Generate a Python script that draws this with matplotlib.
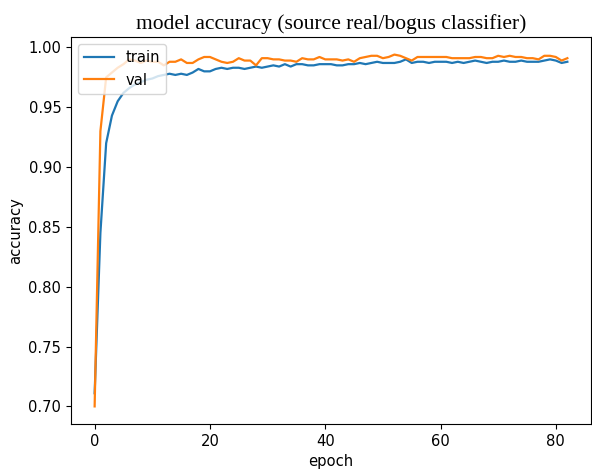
import matplotlib
matplotlib.use("Agg")
import matplotlib.pyplot as plt

epochs = list(range(83))
train = [0.711, 0.845, 0.920, 0.943, 0.955, 0.962, 0.966, 0.969, 0.971, 0.973,
         0.974, 0.976, 0.977, 0.978, 0.977, 0.978, 0.977, 0.979, 0.982, 0.980,
         0.980, 0.982, 0.983, 0.982, 0.983, 0.983, 0.982, 0.983, 0.984, 0.983,
         0.984, 0.985, 0.984, 0.986, 0.984, 0.986, 0.986, 0.985, 0.985, 0.986,
         0.986, 0.986, 0.985, 0.985, 0.986, 0.986, 0.987, 0.986, 0.987, 0.988,
         0.987, 0.987, 0.987, 0.988, 0.990, 0.987, 0.988, 0.988, 0.987, 0.988,
         0.988, 0.988, 0.987, 0.988, 0.987, 0.988, 0.989, 0.988, 0.987, 0.988,
         0.988, 0.989, 0.988, 0.988, 0.989, 0.988, 0.988, 0.988, 0.989, 0.990,
         0.989, 0.987, 0.988]
val = [0.700, 0.930, 0.975, 0.979, 0.983, 0.986, 0.990, 0.989, 0.987, 0.989,
       0.988, 0.988, 0.985, 0.988, 0.988, 0.990, 0.987, 0.987, 0.990, 0.992,
       0.992, 0.990, 0.988, 0.987, 0.988, 0.991, 0.989, 0.989, 0.985, 0.991,
       0.991, 0.990, 0.990, 0.989, 0.989, 0.988, 0.991, 0.990, 0.990, 0.992,
       0.990, 0.990, 0.990, 0.989, 0.990, 0.988, 0.991, 0.992, 0.993, 0.993,
       0.991, 0.992, 0.994, 0.993, 0.991, 0.989, 0.992, 0.992, 0.992, 0.992,
       0.992, 0.992, 0.991, 0.991, 0.991, 0.991, 0.992, 0.992, 0.991, 0.991,
       0.993, 0.992, 0.993, 0.992, 0.992, 0.991, 0.991, 0.990, 0.993, 0.993,
       0.992, 0.989, 0.991]

plt.rcParams["font.size"] = 10.6

fig = plt.figure(figsize=(5.92, 4.76), dpi=100)
ax = fig.add_axes([71/592, 1-424/476, (591-71)/592, (424-37)/476])
ax.plot(epochs, train, label="train", color="#1f77b4", linewidth=1.6)
ax.plot(epochs, val, label="val", color="#ff7f0e", linewidth=1.6)
ax.set_title("model accuracy (source real/bogus classifier)",
             fontfamily="Liberation Serif", fontsize=15.5)
ax.set_ylabel("accuracy")
ax.set_xlabel("epoch")
ax.legend(loc="upper left")
fig.savefig("out.png", dpi=100)
